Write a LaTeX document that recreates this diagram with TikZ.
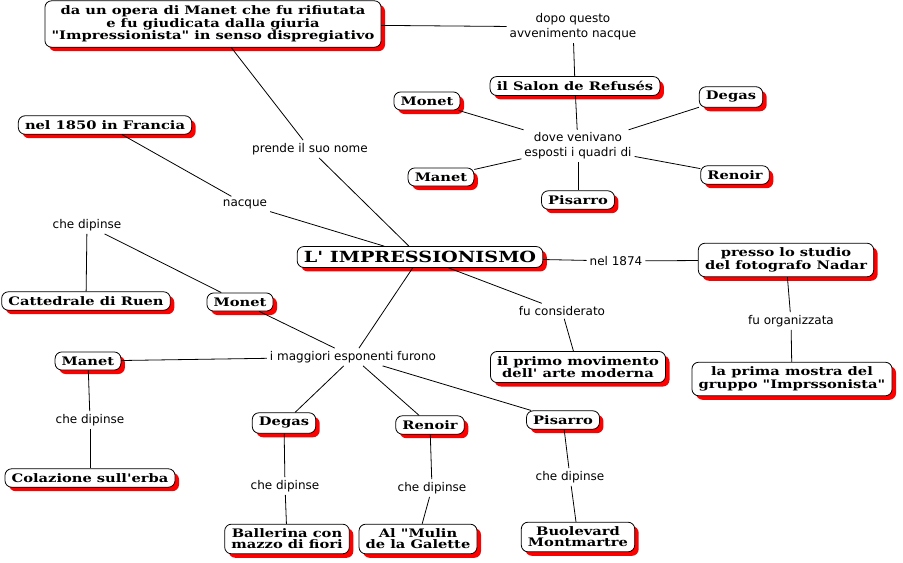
\documentclass[tikz,border=0pt]{standalone}
\usepackage{fontspec}
\setmainfont{DejaVu Sans}
\newfontfamily\boxfont[FakeStretch=1.25]{DejaVu Serif}
\usetikzlibrary{shadows}
\begin{document}
\begin{tikzpicture}[x=0.75pt,y=-0.75pt,
  concept/.style={draw=black, fill=white, rounded corners=5pt, line width=0.6pt, align=center,
    inner xsep=5pt, inner ysep=3.5pt,
    font=\boxfont\bfseries\fontsize{8.8}{8.4}\selectfont,
    drop shadow={shadow xshift=3pt, shadow yshift=-3pt, fill=red, opacity=1}},
  phrase/.style={align=center, inner sep=2pt, font=\fontsize{9}{11}\selectfont},
  every path/.style={line width=0.6pt}]
\useasboundingbox (0,0) rectangle (903,562);
\node[concept] (con0) at (213,24){da un opera di Manet che fu rifiutata\\e fu giudicata dalla giuria\\"Impressionista" in senso dispregiativo};
\node[concept] (con1) at (105,125){nel 1850 in Francia};
\node[concept, font=\boxfont\bfseries\fontsize{11.5}{11}\selectfont] (con2) at (420,257){L' IMPRESSIONISMO};
\node[concept] (con3) at (575,86){il Salon de Refusés};
\node[concept] (con4) at (427,101){Monet};
\node[concept] (con5) at (441,177){Manet};
\node[concept] (con6) at (578,200){Pisarro};
\node[concept] (con7) at (731,97){Degas};
\node[concept] (con8) at (735,175){Renoir};
\node[concept] (con9) at (786,260){presso lo studio\\del fotografo Nadar};
\node[concept] (con10) at (792,379){la prima mostra del\\gruppo "Imprssonista"};
\node[concept] (con11) at (578,367){il primo movimento\\dell' arte moderna};
\node[concept] (con12) at (86,301){Cattedrale di Ruen};
\node[concept] (con13) at (240,302){Monet};
\node[concept] (con14) at (88,361){Manet};
\node[concept] (con15) at (90,478){Colazione sull'erba};
\node[concept] (con16) at (284,423){Degas};
\node[concept] (con17) at (430,425){Renoir};
\node[concept] (con18) at (563,420){Pisarro};
\node[concept] (con19) at (287,539){Ballerina con\\mazzo di fiori};
\node[concept] (con20) at (418,539){Al "Mulin\\de la Galette};
\node[concept] (con21) at (578,537){Buolevard\\Montmartre};
\node[phrase] (lnk0) at (573,27){dopo questo\\avvenimento nacque};
\node[phrase] (lnk1) at (310,149){prende il suo nome};
\node[phrase] (lnk2) at (245,204){nacque};
\node[phrase] (lnk3) at (578,146){dove venivano\\esposti i quadri di};
\node[phrase] (lnk4) at (616,261){nel 1874};
\node[phrase] (lnk5) at (87,225){che dipinse};
\node[phrase] (lnk6) at (562,311){fu considerato};
\node[phrase] (lnk7) at (791,321){fu organizzata};
\node[phrase] (lnk8) at (353,357){i maggiori esponenti furono};
\node[phrase] (lnk9) at (90,420){che dipinse};
\node[phrase] (lnk10) at (285,486){che dipinse};
\node[phrase] (lnk11) at (432,488){che dipinse};
\node[phrase] (lnk12) at (570,477){che dipinse};
\draw[](con0) -- (lnk0);
\draw[](lnk0) -- (con3);
\draw[](con0) -- (lnk1);
\draw[](lnk1) -- (con2);
\draw[](con1) -- (lnk2);
\draw[](lnk2) -- (con2);
\draw[](con3) -- (lnk3);
\draw[](lnk3) -- (con4);
\draw[](lnk3) -- (con5);
\draw[](lnk3) -- (con6);
\draw[](lnk3) -- (con7);
\draw[](lnk3) -- (con8);
\draw[](con2) -- (lnk4);
\draw[](lnk4) -- (con9);
\draw[](con9) -- (lnk7);
\draw[](lnk7) -- (con10);
\draw[](con2) -- (lnk6);
\draw[](lnk6) -- (con11);
\draw[](con2) -- (lnk8);
\draw[](lnk8) -- (con13);
\draw[](lnk8) -- (con14);
\draw[](lnk8) -- (con16);
\draw[](lnk8) -- (con17);
\draw[](lnk8) -- (con18);
\draw[](con13) -- (lnk5);
\draw[](lnk5) -- (con12);
\draw[](con14) -- (lnk9);
\draw[](lnk9) -- (con15);
\draw[](con16) -- (lnk10);
\draw[](lnk10) -- (con19);
\draw[](con17) -- (lnk11);
\draw[](lnk11) -- (con20);
\draw[](con18) -- (lnk12);
\draw[](lnk12) -- (con21);
\end{tikzpicture}
\end{document}
